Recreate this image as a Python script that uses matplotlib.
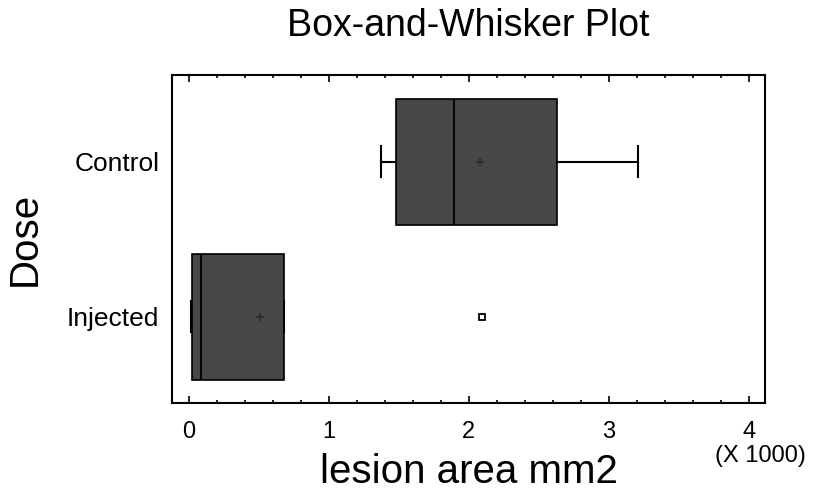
import matplotlib
matplotlib.use('Agg')
import matplotlib.pyplot as plt
from matplotlib.ticker import MultipleLocator

plt.rcParams['font.family'] = ['Liberation Sans', 'DejaVu Sans']

# lesion area mm2
groups = ['Injected', 'Control']
whislo = [18, 1371]
q1 = [21, 1476]
med = [90, 1893]
q3 = [680, 2626]
whishi = [680, 3210]
means = [507, 2079]
fliers = [[2090], []]

scale = 1000.0
stats = []
for i in range(len(groups)):
    stats.append({'label': groups[i],
                  'whislo': whislo[i] / scale, 'q1': q1[i] / scale,
                  'med': med[i] / scale, 'q3': q3[i] / scale,
                  'whishi': whishi[i] / scale, 'mean': means[i] / scale,
                  'fliers': [f / scale for f in fliers[i]]})

fig = plt.figure(figsize=(8.17, 4.93), dpi=100)
ax = fig.add_axes([0.2105, 0.1826, 0.7259, 0.6653])

ax.bxp(stats, positions=[1, 2], vert=False, widths=0.81, patch_artist=True,
       showmeans=True, showcaps=True,
       boxprops=dict(facecolor='#474747', edgecolor='black', linewidth=1.2),
       medianprops=dict(color='black', linewidth=1.3),
       whiskerprops=dict(color='black', linewidth=1.5),
       capprops=dict(color='black', linewidth=1.5),
       capwidths=0.2,
       meanprops=dict(marker='+', markeredgecolor='#2a2a2a', markersize=6, markeredgewidth=1.2),
       flierprops=dict(marker='s', markerfacecolor='white', markeredgecolor='black',
                       markersize=4, markeredgewidth=1.3))

ax.set_xlim(-0.12, 4.114)
ax.set_ylim(0.445, 2.56)
ax.xaxis.set_major_locator(MultipleLocator(1))
ax.xaxis.set_minor_locator(MultipleLocator(0.2))
ax.tick_params(axis='x', which='both', direction='in', top=True, bottom=True,
               labelsize=17, pad=13)
ax.tick_params(axis='x', which='major', length=5, width=1.2)
ax.tick_params(axis='x', which='minor', length=2.5, width=1.2)
ax.tick_params(axis='y', length=0, labelsize=19, pad=9)
for s in ax.spines.values():
    s.set_linewidth(1.5)

ax.set_title('Box-and-Whisker Plot', fontsize=27, pad=28)
ax.set_xlabel('lesion area mm2', fontsize=29, labelpad=7)
ax.set_ylabel('Dose', fontsize=29, labelpad=17)
fig.text(0.931, 0.075, '(X 1000)', fontsize=17, ha='center', va='center')

fig.savefig('out.png', dpi=100)
